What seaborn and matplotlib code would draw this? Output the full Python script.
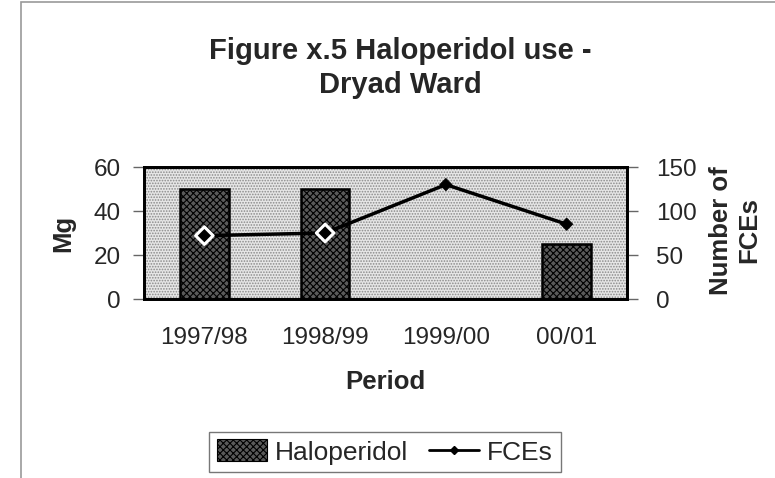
import numpy as np
import pandas as pd
import matplotlib
matplotlib.use("Agg")
import matplotlib.pyplot as plt
import seaborn as sns
from matplotlib.patches import Rectangle, Patch
from matplotlib.lines import Line2D

# Data
periods = ["1997/98", "1998/99", "1999/00", "00/01"]
haloperidol_mg = [50, 50, 0, 25]
fces = [72, 75, 130, 85]

sns.set_style("white")
plt.rcParams["font.family"] = ["Liberation Sans", "DejaVu Sans"]
plt.rcParams["hatch.linewidth"] = 0.8

df = pd.DataFrame({"Period": periods, "Mg": haloperidol_mg, "FCEs": fces})

fig = plt.figure(figsize=(7.75, 4.78), dpi=100)
# chart-area border (grey, left and top visible)
fig.patches.append(Rectangle((21 / 775, -0.1), 1.2, 1.1 - 2 / 478, transform=fig.transFigure,
                             fill=False, edgecolor="#9a9a9a", linewidth=1.2))

ax = fig.add_axes([144 / 775, 1 - 299 / 478, (627 - 144) / 775, (299 - 167) / 478])
ax.set_facecolor("#e6e6e6")
ax.add_patch(Rectangle((0, 0), 1, 1, transform=ax.transAxes, facecolor="none", edgecolor="#8a8a8a",
                       hatch="......", linewidth=0, zorder=0))

sns.barplot(data=df, x="Period", y="Mg", ax=ax, color="#5a5a5a", width=0.4,
            edgecolor="black", linewidth=1.8, zorder=2)
for p in ax.patches[1:]:
    p.set_hatch("xxxxx")
    p.set_edgecolor("black")

ax.set_ylim(0, 60)
ax.set_yticks([0, 20, 40, 60])
ax.set_xlim(-0.5, len(periods) - 0.5)
ax.set_xticks(np.arange(len(periods) + 1) - 0.5)
ax.set_xticklabels([])
ax.set_xticks(np.arange(len(periods)), minor=True)
ax.set_xticklabels(periods, minor=True)
ax.tick_params(axis="x", which="minor", length=0, pad=20, labelsize=17.5)
ax.tick_params(axis="x", which="major", length=7, width=1, color="#666666", direction="out")
ax.tick_params(axis="y", length=8, width=1, color="#666666", direction="out", pad=9, labelsize=17.5)
ax.set_xlabel("Period", fontsize=18.5, fontweight="bold")
ax.xaxis.set_label_coords(0.5, (299 - 382) / 132)
ax.xaxis.label.set_va("center")
ax.set_ylabel("Mg", fontsize=18.5, fontweight="bold")
ax.yaxis.set_label_coords((63 - 144) / 483, 0.5)
ax.yaxis.label.set_va("center")
for s in ax.spines.values():
    s.set_linewidth(2)
    s.set_color("black")

ax2 = ax.twinx()
ax2.set_ylim(0, 150)
ax2.set_yticks([0, 50, 100, 150])
ax2.plot(np.arange(len(periods)), fces, color="black", linewidth=2.5, zorder=3)
inside = [f * 60 / 150 < h for f, h in zip(fces, haloperidol_mg)]
ax2.scatter(np.arange(len(periods)), fces, marker="D", s=[80 if i else 40 for i in inside],
            c="black", edgecolors=["white" if i else "black" for i in inside],
            linewidths=[2.2 if i else 0.5 for i in inside], zorder=4)
ax2.tick_params(axis="y", length=8, width=1, color="#666666", direction="out", pad=13, labelsize=17.5)
ax2.set_ylabel("Number of\nFCEs", fontsize=18.5, fontweight="bold")
ax2.yaxis.set_label_coords((735 - 144) / 483, 0.52)
ax2.yaxis.label.set_va("center")
for s in ax2.spines.values():
    s.set_linewidth(2)
    s.set_color("black")

fig.text(400 / 775, 1 - 68 / 478, "Figure x.5 Haloperidol use -\nDryad Ward", ha="center", va="center",
         fontsize=21, fontweight="bold", linespacing=1.3)

handles = [Patch(facecolor="#5a5a5a", edgecolor="black", hatch="xxxxx", linewidth=0.8),
           Line2D([0], [0], color="black", linewidth=2, marker="D", markersize=4.5)]
fig.legend(handles, ["Haloperidol", "FCEs"], loc="center", bbox_to_anchor=(385 / 775, 1 - 452 / 478),
           ncol=2, fontsize=19, frameon=True, fancybox=False, edgecolor="#777777", framealpha=1,
           handlelength=1.9, handleheight=0.9, handletextpad=0.3, columnspacing=0.8, borderpad=0.3)

fig.savefig("out.png", dpi=100)
